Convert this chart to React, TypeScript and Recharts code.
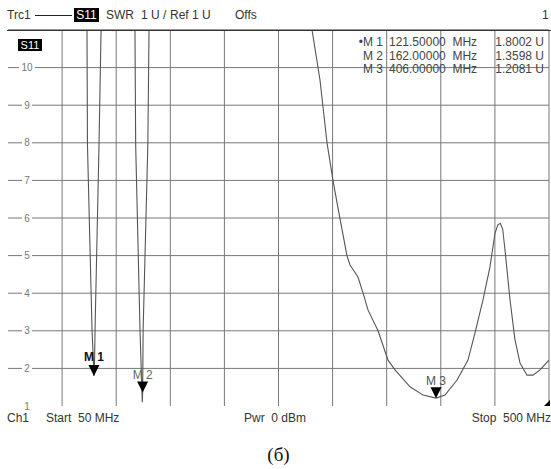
import React from 'react';
import { LineChart, Line, XAxis, YAxis, ReferenceDot, ReferenceLine } from 'recharts';

// Frequency (MHz) and SWR values
const freqMHz = [
  50, 115, 115.7, 116.1, 119.9, 121.0, 121.5, 122.0, 122.4, 125.7, 127.4, 128,
  155, 155.6, 156.2, 159.8, 161.7, 162.0, 162.4, 166.3, 167.3, 168,
  300, 302.9, 309.5, 315.4, 320.4, 326.2, 332.0, 334.5, 341.1, 345.3, 349.5, 357.8,
  366.1, 371.9, 384.4, 395.2, 406, 413.5, 423.5, 432.6, 438.4, 445.1, 450.9, 455.1,
  457.5, 459.5, 461.5, 463.4, 467.6, 471.7, 475.9, 481.7, 486.7, 492.5, 500,
];
const swrValues = [
  20, 20, 11, 7.94, 3.02, 2.2, 1.8, 2.2, 3.02, 7.94, 11, 20,
  20, 11, 7.94, 3.02, 1.1, 1.36, 3.02, 7.94, 11, 20,
  20, 11, 9.67, 7.99, 6.98, 5.97, 4.99, 4.75, 4.43, 4.01, 3.55, 3.0,
  2.22, 1.96, 1.51, 1.29, 1.21, 1.29, 1.69, 2.22, 2.94, 3.82, 4.7, 5.6,
  5.82, 5.86, 5.7, 5.15, 3.82, 2.76, 2.14, 1.82, 1.82, 1.96, 2.22,
];

const xTicks = [50, 95, 140, 185, 230, 275, 320, 365, 410, 455, 500];
const yTicks = [1, 2, 3, 4, 5, 6, 7, 8, 9, 10, 11];
const yLabels = [1, 2, 3, 4, 5, 6, 7, 8, 9, 10];

const markerNames = ['M 1', 'M 2', 'M 3'];
const markerFreq = [121.5, 162.0, 406.0];
const markerValue = [1.8002, 1.3598, 1.2081];
const markerFreqText = ['121.50000', '162.00000', '406.00000'];
const markerValueText = ['1.8002 U', '1.3598 U', '1.2081 U'];

const data = freqMHz.map((f, i) => ({ f, swr: swrValues[i] }));

const FONT = '"Liberation Sans", Arial, sans-serif';
const GRID = '#777';

const makeYLabel = (v: number) => (props: any) => {
  const { cx, cy } = props;
  const s = String(v);
  const w = s.length * 6 + 4;
  const x = cx + 19;
  return (
    <g>
      <rect x={x - w / 2} y={cy - 5} width={w} height={10} fill="#fff" />
      <text x={x} y={cy + 3.5} textAnchor="middle" fontSize={10} fill="#777" fontFamily={FONT}>
        {s}
      </text>
    </g>
  );
};

const makeMarker = (label: string, color: string, bold: boolean, lift: number) => (props: any) => {
  const { cx, cy } = props;
  return (
    <g>
      <path d={`M${cx - 5.5},${cy - 11} L${cx + 5.5},${cy - 11} L${cx},${cy} Z`} fill="#000" />
      <text
        x={cx}
        y={cy - lift}
        textAnchor="middle"
        fontSize={12}
        fill={color}
        fontWeight={bold ? 'bold' : 'normal'}
        fontFamily={FONT}
      >
        {label}
      </text>
    </g>
  );
};

const cornerShape = (props: any) => {
  const { cx, cy } = props;
  return <path d={`M${cx + 1},${cy - 6} L${cx + 1},${cy} L${cx - 5},${cy} Z`} fill="#000" />;
};

const txt = (left: number, top: number, content: React.ReactNode, extra: React.CSSProperties = {}) => (
  <div
    style={{
      position: 'absolute',
      left,
      top,
      fontFamily: FONT,
      fontSize: 12,
      color: '#333',
      whiteSpace: 'pre',
      lineHeight: '14px',
      ...extra,
    }}
  >
    {content}
  </div>
);

export default function App() {
  const markerShapes = [
    makeMarker('M 1', '#111', true, 15),
    makeMarker('M 2', '#666', false, 13),
    makeMarker('M 3', '#555', false, 13),
  ];
  return (
    <div style={{ position: 'absolute', left: 0, top: 0, width: 551, height: 469, background: '#fff', overflow: 'hidden' }}>
      <LineChart width={551} height={469} data={data} margin={{ top: 30, right: 2, bottom: 63, left: 8 }}>
        <XAxis
          type="number"
          dataKey="f"
          domain={[50, 500]}
          ticks={xTicks}
          height={0}
          tick={false}
          tickLine={false}
          axisLine={{ stroke: '#333' }}
          allowDataOverflow
        />
        <YAxis
          type="number"
          domain={[1, 11]}
          ticks={yTicks}
          width={0}
          tickLine={false}
          tick={false}
          axisLine={{ stroke: '#333' }}
          allowDataOverflow
        />
        {yTicks.slice(1, -1).map((t) => (
          <ReferenceLine key={'h' + t} y={t} stroke={GRID} strokeWidth={1} />
        ))}
        {xTicks.slice(1).map((t) => (
          <ReferenceLine key={'v' + t} x={t} stroke={GRID} strokeWidth={1} />
        ))}
        <ReferenceLine y={11} stroke="#333" />
        <Line type="linear" dataKey="swr" stroke="#555" strokeWidth={1.1} dot={false} isAnimationActive={false} />
        {yLabels.map((v) => (
          <ReferenceDot key={'yl' + v} x={50} y={v} r={0} shape={makeYLabel(v)} isFront />
        ))}
        {markerNames.map((n, i) => (
          <ReferenceDot
            key={n}
            x={markerFreq[i]}
            y={markerValue[i]}
            r={0}
            shape={markerShapes[i]}
            isFront
          />
        ))}
        <ReferenceDot x={500} y={1} r={0} shape={cornerShape} isFront />
      </LineChart>

      {/* header */}
      {txt(7, 8, 'Trc1')}
      <div style={{ position: 'absolute', left: 35, top: 15, width: 37, height: 1, background: '#222' }} />
      <div
        style={{
          position: 'absolute',
          left: 74,
          top: 8,
          width: 25,
          height: 14,
          background: '#000',
          color: '#fff',
          fontFamily: FONT,
          fontSize: 12,
          lineHeight: '14px',
          textAlign: 'center',
        }}
      >
        S11
      </div>
      {txt(106, 8, 'SWR')}
      {txt(141, 8, '1 U /')}
      {txt(170, 8, 'Ref 1 U')}
      {txt(235, 8, 'Offs')}
      {txt(542, 8, '1')}
      <div style={{ position: 'absolute', left: 7, top: 30, width: 544, height: 1, background: '#333' }} />

      {/* S11 badge inside plot */}
      <div
        style={{
          position: 'absolute',
          left: 18,
          top: 39,
          width: 24,
          height: 12,
          background: '#000',
          color: '#fff',
          fontFamily: FONT,
          fontSize: 11,
          lineHeight: '12px',
          textAlign: 'center',
        }}
      >
        S11
      </div>

      {/* marker table */}
      {markerNames.map((n, i) => (
        <React.Fragment key={n}>
          {txt(300, 35 + i * 13.5, (i === 0 ? '\u2022' : '') + n, { width: 83, textAlign: 'right', color: '#444' })}
          {txt(389, 35 + i * 13.5, markerFreqText[i] + '  MHz', { color: '#444' })}
          {txt(480, 35 + i * 13.5, markerValueText[i], { width: 64, textAlign: 'right', color: '#444' })}
        </React.Fragment>
      ))}

      {/* footer */}
      {txt(7, 411, 'Ch1')}
      {txt(46, 411, 'Start  50 MHz')}
      {txt(244, 411, 'Pwr  0 dBm')}
      {txt(440, 411, 'Stop  500 MHz', { width: 111, textAlign: 'right' })}

      {/* caption */}
      <div
        style={{
          position: 'absolute',
          left: 0,
          width: 551,
          top: 444,
          textAlign: 'center',
          fontFamily: '"Liberation Serif", "Times New Roman", serif',
          fontSize: 19,
          lineHeight: '22px',
          color: '#111',
          paddingLeft: 6,
          boxSizing: 'border-box',
        }}
      >
        (б)
      </div>
    </div>
  );
}
